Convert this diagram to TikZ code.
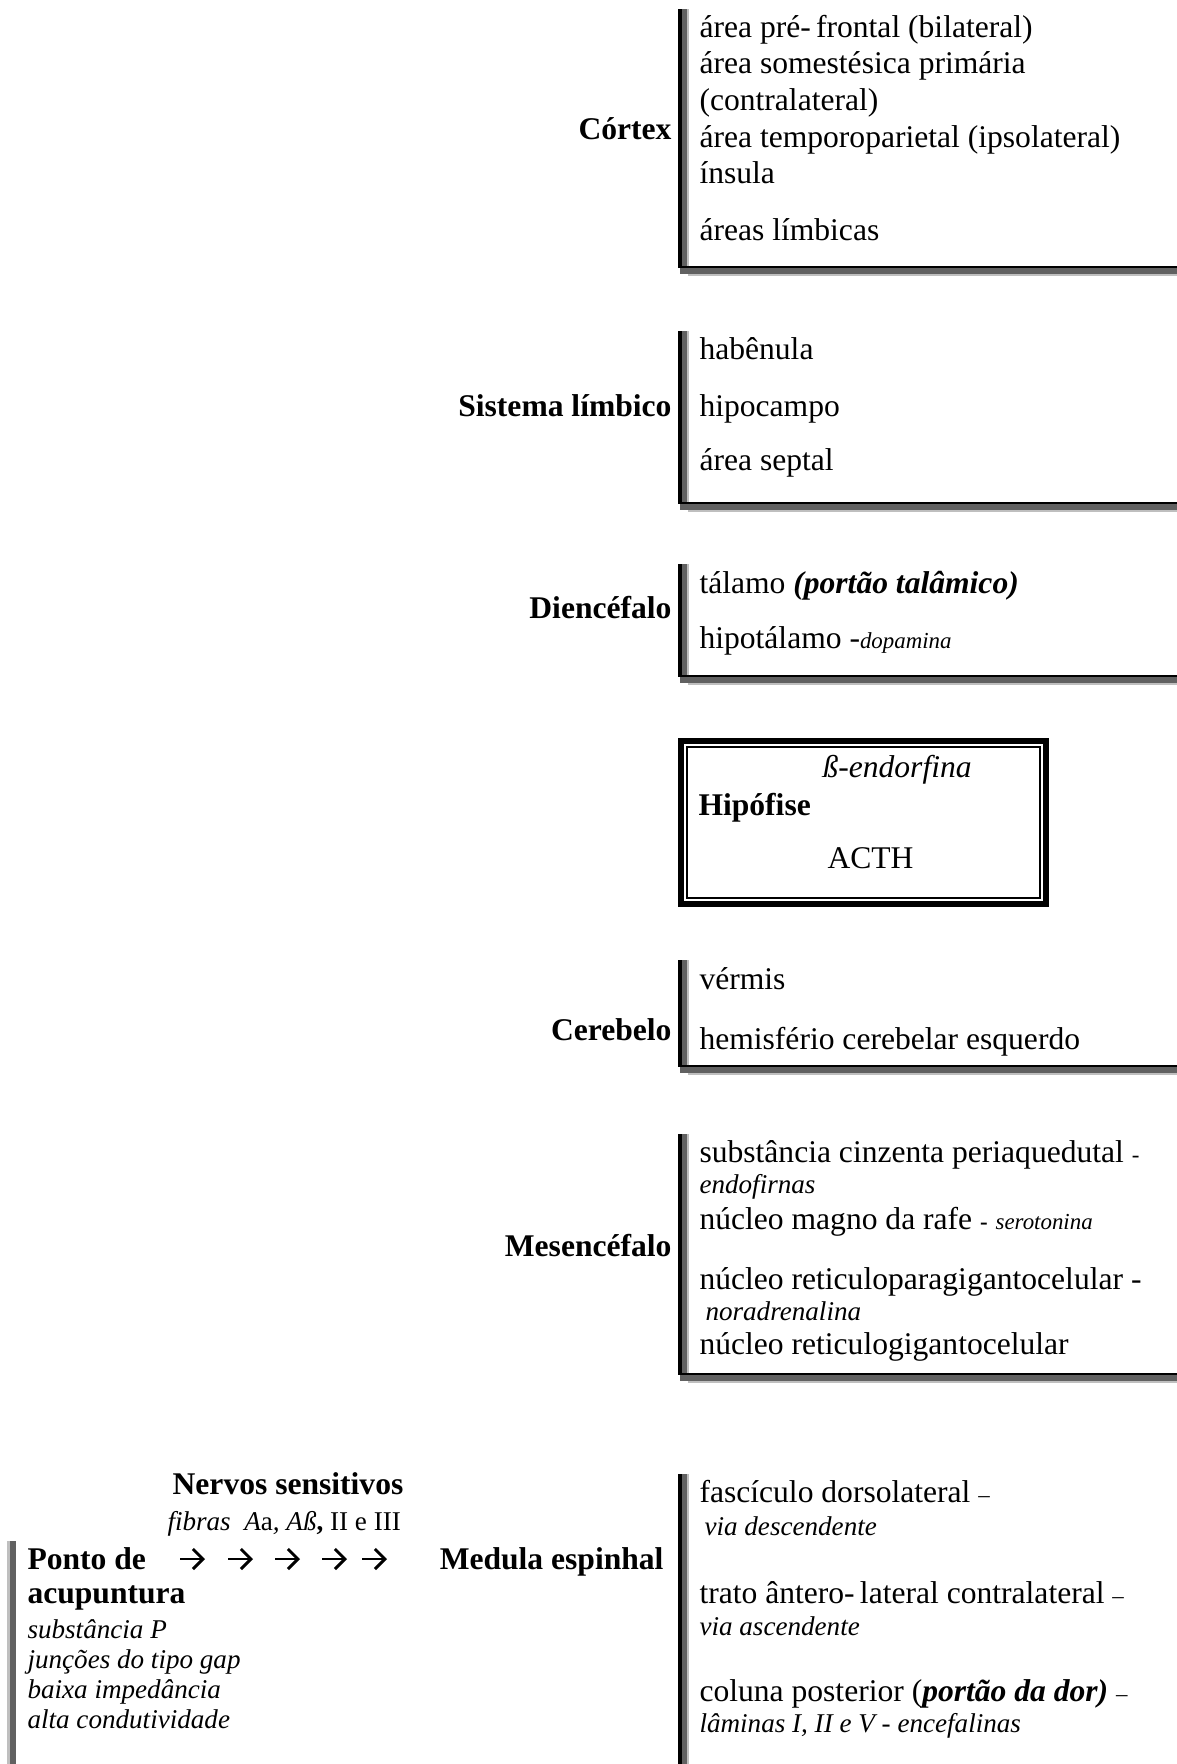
\documentclass[tikz,border=0pt]{standalone}
\usepackage{fontspec}
\setmainfont{Liberation Serif}
\usetikzlibrary{arrows.meta}
\definecolor{shadedark}{gray}{0.38}
\definecolor{shadelight}{gray}{0.75}
\newcommand\bodyf{\fontsize{12}{14}\selectfont}
\newcommand\notef{\fontsize{10.3}{12}\selectfont\itshape}
\newcommand\tinyf{\fontsize{8.7}{10}\selectfont}

\begin{document}
\begin{tikzpicture}[x=0.38pt,y=-0.38pt,font=\bodyf,
  every node/.style={inner sep=0pt},
  lbl/.style={anchor=base east,font=\bodyf\bfseries},
  itm/.style={anchor=base west,font=\bodyf},
  note/.style={anchor=base west,font=\notef},
  chev/.style={line width=1.1pt,-{Straight Barb[length=3.8pt,width=7.6pt]}}]
 \useasboundingbox (0,0) rectangle (1177,1764);
 \def\brkt#1#2{%
  \fill (678,#1) rectangle (682,#2+2);
  \fill[shadedark] (682,#1) rectangle (687,#2);
  \fill[shadelight] (687,#1) rectangle (689,#2);
  \fill[shadedark] (680,#2+2) rectangle (1177,#2+8);
  \fill[shadelight] (688,#2+8) rectangle (1177,#2+10);
  \fill (682,#2) rectangle (1177,#2+2);}
 \def\openbrk#1{%
  \fill (678,#1) rectangle (682,1764);
  \fill[shadedark] (682,#1) rectangle (687,1764);
  \fill[shadelight] (687,#1) rectangle (689,1764);}
 % cortex
 \brkt{9}{266}
 \node[lbl] (cortex) at (672,140) {Córtex};
 \node[itm] (cx1) at (699,38) {área pré-\,frontal (bilateral)};
 \node[itm] (cx2) at (699,74) {área somestésica primária};
 \node[itm] (cx3) at (699,111) {(contralateral)};
 \node[itm] (cx4) at (699,148) {área temporoparietal (ipsolateral)};
 \node[itm] (cx5) at (699,184) {ínsula};
 \node[itm] (cx6) at (699,241) {áreas límbicas};
 % limbico
 \brkt{331}{502}
 \node[lbl] (limbico) at (672,417) {Sistema límbico};
 \node[itm] (lb1) at (699,360) {habênula};
 \node[itm] (lb2) at (699,417) {hipocampo};
 \node[itm] (lb3) at (699,471) {área septal};
 % diencefalo
 \brkt{564}{675}
 \node[lbl] (dienc) at (672,618) {Diencéfalo};
 \node[itm] (di1) at (699,593) {tálamo \textbf{\itshape (portão talâmico)}};
 \node[itm] (di2) at (699,648) {hipotálamo -{\tinyf\itshape dopamina}};
 % hipofise
 \draw[line width=2.28pt] (681,741) rectangle (1046,904);
 \draw[line width=0.76pt] (687,747) rectangle (1040,898);
 \node[itm,font=\bodyf\itshape] (beta) at (822,777) {ß-endorfina};
 \node[itm,font=\bodyf\bfseries] (hipof) at (698,815) {Hipófise};
 \node[itm] (acth) at (827,868) {ACTH};
 % cerebelo
 \brkt{960}{1065}
 \node[lbl] (cereb) at (672,1040) {Cerebelo};
 \node[itm] (ce1) at (699,989) {vérmis};
 \node[itm] (ce2) at (699,1049) {hemisfério cerebelar esquerdo};
 % mesencefalo
 \brkt{1134}{1373}
 \node[lbl] (mesenc) at (672,1256) {Mesencéfalo};
 \node[itm] (me1) at (699,1162) {substância cinzenta periaquedutal {\tinyf -}};
 \node[note] (me2) at (699,1193) {endofirnas};
 \node[itm] (me3) at (699,1229) {núcleo magno da rafe {\tinyf\bfseries -} {\tinyf\itshape serotonina}};
 \node[itm] (me4) at (699,1289) {núcleo reticuloparagigantocelular -};
 \node[note] (me5) at (705,1320) {noradrenalina};
 \node[itm] (me6) at (699,1354) {núcleo reticulogigantocelular};
 % medula e ponto
 \openbrk{1474}
 \node[lbl] (medula) at (664,1569) {Medula espinhal};
 \node[itm] (md1) at (699,1502) {fascículo dorsolateral {\tinyf –}};
 \node[note] (md2) at (704,1535) {via descendente};
 \node[itm] (md3) at (699,1603) {trato ântero-\,lateral contralateral {\tinyf –}};
 \node[note] (md4) at (699,1635) {via ascendente};
 \node[itm] (md5) at (699,1701) {coluna posterior (\textbf{\itshape portão da dor)} {\tinyf –}};
 \node[note] (md6) at (699,1732) {lâminas I, II e V - encefalinas};
 \fill[shadelight] (7,1541) rectangle (10,1764);
 \fill[shadedark] (10,1541) rectangle (16,1764);
 \node[anchor=base,font=\bodyf\bfseries] (nervos) at (288,1494) {Nervos sensitivos};
 \node[note] (fibras) at (167,1530) {fibras\ \ A{\upshape a}, Aß{\upshape\bfseries ,} {\upshape II e III}};
 \node[itm,font=\bodyf\bfseries] (ponto) at (27,1569) {Ponto de};
 \node[itm,font=\bodyf\bfseries] (acup) at (27,1603) {acupuntura};
 \node[note] (pt1) at (27,1638) {substância P};
 \node[note] (pt2) at (27,1668) {junções do tipo gap};
 \node[note] (pt3) at (27,1698) {baixa impedância};
 \node[note] (pt4) at (27,1728) {alta condutividade};
 \foreach \xa [count=\k] in {180,228,275,322,362}
  {\coordinate (ar\k) at (\xa,1559);
   \draw[chev] (ar\k) -- ++(25,0);}
\end{tikzpicture}
\end{document}
